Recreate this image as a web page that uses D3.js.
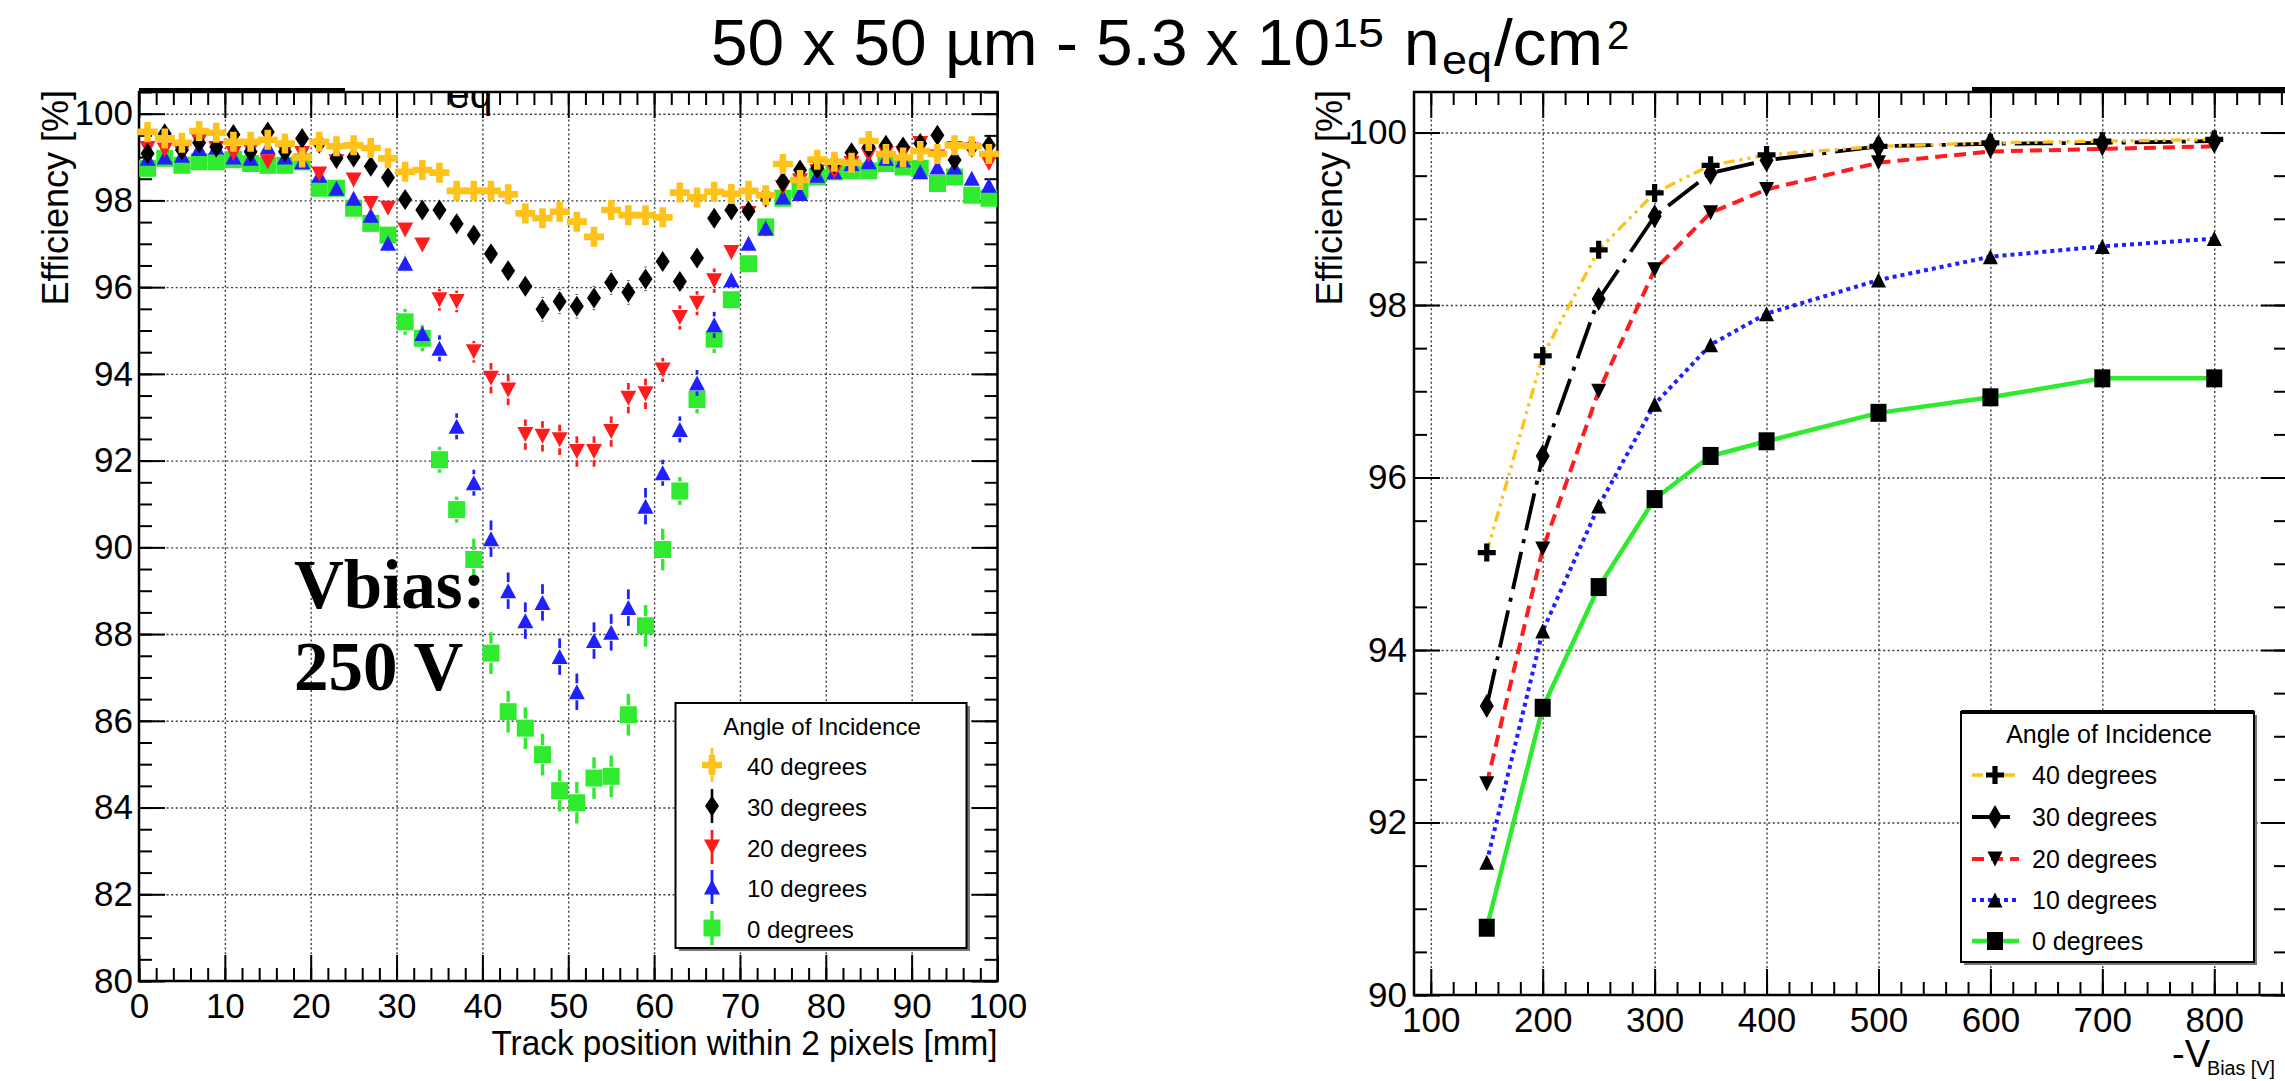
<!DOCTYPE html>
<html>
<head>
<meta charset="utf-8">
<script src="https://cdn.jsdelivr.net/npm/d3@7"></script>
<style>
  html, body { margin: 0; padding: 0; background: #fff; }
  svg { display: block; font-family: "Liberation Sans", Arial, Helvetica, sans-serif; }
</style>
</head>
<body>
<svg id="chart" width="2285" height="1081"></svg>
<script>
// ---------- left panel: efficiency vs track position (Vbias 250 V) ----------
const trackPos = [1, 3, 5, 7, 9, 11, 13, 15, 17, 19, 21, 23, 25, 27, 29, 31, 33, 35, 37, 39, 41, 43, 45, 47, 49,
  51, 53, 55, 57, 59, 61, 63, 65, 67, 69, 71, 73, 75, 77, 79, 81, 83, 85, 87, 89, 91, 93, 95, 97, 99];

const eff40 = [99.58, 99.43, 99.33, 99.60, 99.56, 99.35, 99.35, 99.40, 99.31, 98.99, 99.35, 99.25, 99.27, 99.21, 98.97,
  98.66, 98.70, 98.64, 98.22, 98.22, 98.22, 98.14, 97.70, 97.59, 97.74, 97.51, 97.16, 97.78, 97.66, 97.66, 97.61,
  98.18, 98.07, 98.20, 98.15, 98.22, 98.12, 98.84, 98.47, 98.94, 98.89, 98.87, 99.37, 99.07, 98.99, 99.14, 99.07,
  99.27, 99.25, 99.07];
const eff30 = [99.08, 99.54, 99.16, 99.33, 99.23, 99.52, 99.12, 99.58, 99.12, 99.43, 99.32, 98.97, 99.00, 98.79, 98.53,
  98.02, 97.78, 97.78, 97.46, 97.20, 96.77, 96.38, 96.02, 95.49, 95.67, 95.56, 95.75, 96.11, 95.88, 96.19, 96.59,
  96.13, 96.67, 97.59, 97.78, 97.75, 98.09, 98.43, 98.70, 98.74, 98.85, 99.10, 99.23, 99.27, 99.23, 99.31, 99.50,
  98.93, 99.23, 99.27];
const eff20 = [99.20, 99.16, 99.10, 99.35, 99.20, 99.08, 99.15, 98.89, 99.12, 99.08, 98.61, 98.89, 98.47, 97.93, 97.82,
  97.32, 96.97, 95.71, 95.67, 94.51, 93.90, 93.63, 92.60, 92.56, 92.48, 92.21, 92.21, 92.67, 93.44, 93.54, 94.09,
  95.30, 95.63, 96.15, 96.80, 97.70, 98.00, 98.30, 98.45, 98.66, 98.66, 98.85, 99.04, 99.08, 99.08, 99.31, 99.00,
  99.20, 99.16, 98.85];
const eff10 = [98.97, 99.00, 99.04, 99.20, 99.23, 99.00, 98.97, 99.23, 99.00, 98.89, 98.58, 98.28, 98.05, 97.66, 97.01,
  96.55, 94.93, 94.59, 92.79, 91.49, 90.20, 89.00, 88.31, 88.73, 87.48, 86.67, 87.85, 88.04, 88.61, 90.95, 91.72,
  92.72, 93.79, 95.13, 96.17, 97.01, 97.36, 98.08, 98.16, 98.58, 98.66, 98.85, 98.89, 98.97, 98.93, 98.66, 98.77,
  98.77, 98.51, 98.35];
const eff0 = [98.74, 98.97, 98.81, 98.89, 98.89, 98.94, 98.85, 98.81, 98.81, 98.89, 98.28, 98.28, 97.82, 97.47, 97.20,
  95.20, 94.82, 92.02, 90.87, 89.72, 87.56, 86.21, 85.83, 85.22, 84.39, 84.11, 84.68, 84.72, 86.14, 88.19, 89.95,
  91.30, 93.41, 94.80, 95.71, 96.54, 97.39, 98.05, 98.24, 98.54, 98.66, 98.68, 98.68, 98.85, 98.77, 98.74, 98.39,
  98.54, 98.12, 98.05];

const err40 = [0.10, 0.10, 0.10, 0.10, 0.10, 0.10, 0.10, 0.10, 0.10, 0.10, 0.10, 0.10, 0.10, 0.10, 0.10,
  0.12, 0.12, 0.12, 0.15, 0.15, 0.15, 0.15, 0.15, 0.15, 0.15, 0.15, 0.15, 0.15, 0.15, 0.15, 0.15,
  0.12, 0.12, 0.12, 0.12, 0.12, 0.12, 0.10, 0.10, 0.10, 0.10, 0.10, 0.10, 0.10, 0.10, 0.10, 0.10, 0.10, 0.10, 0.10];
const err30 = [0.10, 0.10, 0.10, 0.10, 0.10, 0.10, 0.10, 0.10, 0.10, 0.10, 0.10, 0.10, 0.10, 0.10,
  0.14, 0.14, 0.14, 0.14, 0.20, 0.20, 0.20, 0.20, 0.20, 0.28, 0.28, 0.28, 0.28, 0.28, 0.28, 0.28,
  0.22, 0.22, 0.22, 0.15, 0.15, 0.15, 0.15, 0.10, 0.10, 0.10, 0.10, 0.10, 0.10, 0.10, 0.10, 0.10, 0.10, 0.10, 0.10, 0.10];
const err20 = [0.12, 0.12, 0.12, 0.12, 0.12, 0.12, 0.12, 0.12, 0.12, 0.12, 0.12, 0.12, 0.12, 0.12,
  0.18, 0.18, 0.18, 0.25, 0.25, 0.25, 0.35, 0.35, 0.35, 0.35, 0.35, 0.35, 0.35, 0.35, 0.35, 0.35,
  0.28, 0.28, 0.28, 0.28, 0.18, 0.18, 0.18, 0.12, 0.12, 0.12, 0.12, 0.12, 0.12, 0.12, 0.12, 0.12, 0.12, 0.12, 0.12, 0.12];
const err10 = [0.12, 0.12, 0.12, 0.12, 0.12, 0.12, 0.12, 0.12, 0.12, 0.12, 0.12, 0.12, 0.12, 0.12,
  0.20, 0.20, 0.20, 0.30, 0.30, 0.30, 0.42, 0.42, 0.42, 0.42, 0.42, 0.42, 0.42, 0.42, 0.42, 0.42,
  0.30, 0.30, 0.30, 0.30, 0.20, 0.20, 0.20, 0.12, 0.12, 0.12, 0.12, 0.12, 0.12, 0.12, 0.12, 0.12, 0.12, 0.12, 0.12, 0.12];
const err0 = [0.12, 0.12, 0.12, 0.12, 0.12, 0.12, 0.12, 0.12, 0.12, 0.12, 0.12, 0.12, 0.12, 0.12, 0.12,
  0.30, 0.30, 0.30, 0.30, 0.48, 0.48, 0.48, 0.48, 0.48, 0.48, 0.48, 0.48, 0.48, 0.48, 0.48, 0.48,
  0.32, 0.32, 0.32, 0.22, 0.22, 0.22, 0.12, 0.12, 0.12, 0.12, 0.12, 0.12, 0.12, 0.12, 0.12, 0.12, 0.12, 0.12, 0.12];

// ---------- right panel: efficiency vs bias voltage ----------
const biasV = [150, 200, 250, 300, 350, 400, 500, 600, 700, 800];
const bias40 = [95.13, 97.41, 98.64, 99.30, 99.62, 99.74, 99.84, 99.88, 99.90, 99.92];
const bias30 = [93.35, 96.25, 98.07, 99.03, 99.53, 99.68, 99.84, 99.87, 99.88, 99.90];
const bias20 = [92.45, 95.17, 97.00, 98.41, 99.07, 99.34, 99.65, 99.78, 99.81, 99.84];
const bias10 = [91.54, 94.22, 95.67, 96.85, 97.54, 97.90, 98.29, 98.56, 98.68, 98.77];
const bias0 = [90.78, 93.33, 94.73, 95.75, 96.25, 96.42, 96.75, 96.93, 97.15, 97.15];

const angleLabels = ['40 degrees', '30 degrees', '20 degrees', '10 degrees', '0 degrees'];
const xTicksLeft = [0, 10, 20, 30, 40, 50, 60, 70, 80, 90, 100];
const yTicksLeft = [80, 82, 84, 86, 88, 90, 92, 94, 96, 98, 100];
const xTicksRight = [100, 200, 300, 400, 500, 600, 700, 800];
const yTicksRight = [90, 92, 94, 96, 98, 100];

// ---------- styles ----------
const COL = { a40: '#ffc21a', a30: '#000000', a20: '#ff1c1c', a10: '#1f1fff', a0: '#2fea2f' };
const SANS = '"Liberation Sans", Arial, Helvetica, sans-serif';
const SERIF = '"Liberation Serif", "Times New Roman", serif';

const svg = d3.select('#chart');

function markerPath(type, s) {
  if (type === 'cross') {
    const a = s.a, t = s.t;
    return `M${-t},${-a}H${t}V${-t}H${a}V${t}H${t}V${a}H${-t}V${t}H${-a}V${-t}H${-t}Z`;
  }
  if (type === 'diamond') return `M0,${-s.h}L${s.w},0L0,${s.h}L${-s.w},0Z`;
  if (type === 'tdown') return `M${-s.w},${-s.h / 2}L${s.w},${-s.h / 2}L0,${s.h / 2}Z`;
  if (type === 'tup') return `M${-s.w},${s.h / 2}L${s.w},${s.h / 2}L0,${-s.h / 2}Z`;
  return `M${-s.w},${-s.h}H${s.w}V${s.h}H${-s.w}Z`;
}

// half height of a marker, used to leave the error bar gap
function markerHalf(type, s) {
  if (type === 'cross') return s.a;
  if (type === 'tdown' || type === 'tup') return s.h / 2;
  return s.h;
}

function drawFrame(cfg) {
  const w = cfg.right - cfg.left;
  const h = cfg.bottom - cfg.top;
  const g = svg.append('g').attr('transform', `translate(${cfg.left},${cfg.top})`);
  const x = d3.scaleLinear().domain(cfg.xDomain).range([0, w]);
  const y = d3.scaleLinear().domain(cfg.yDomain).range([h, 0]);

  // dotted grid
  const grid = g.append('g');
  grid.append('g').call(d3.axisBottom(x).tickValues(cfg.xGrid).tickSize(h).tickFormat(''));
  grid.append('g').call(d3.axisRight(y).tickValues(cfg.yGrid).tickSize(w).tickFormat(''));
  grid.selectAll('.domain').remove();
  grid.selectAll('line').attr('stroke', '#3a3a3a').attr('stroke-width', 1.4).attr('stroke-dasharray', '2,2.6');

  const axes = g.append('g');
  const add = (axis, tx, ty) => axes.append('g').attr('transform', `translate(${tx},${ty})`).call(axis);

  add(d3.axisBottom(x).tickValues(cfg.xMinor).tickSize(-13).tickFormat(''), 0, h);
  add(d3.axisTop(x).tickValues(cfg.xMinor).tickSize(-13).tickFormat(''), 0, 0);
  add(d3.axisTop(x).tickValues(cfg.xTicks).tickSize(-26).tickFormat(''), 0, 0);
  add(d3.axisLeft(y).tickValues(cfg.yMinor).tickSize(-13).tickFormat(''), 0, 0);
  add(d3.axisRight(y).tickValues(cfg.yMinor).tickSize(-13).tickFormat(''), w, 0);
  add(d3.axisRight(y).tickValues(cfg.yTicks).tickSize(-26).tickFormat(''), w, 0);
  add(d3.axisBottom(x).tickValues(cfg.xTicks).tickSize(-26).tickPadding(12).tickFormat(d3.format('d')), 0, h);
  add(d3.axisLeft(y).tickValues(cfg.yTicks).tickSize(-26).tickPadding(cfg.yPad).tickFormat(d3.format('d')), 0, 0);

  axes.selectAll('.domain').remove();
  axes.selectAll('line').attr('stroke', '#000').attr('stroke-width', 2);
  axes.selectAll('g').attr('font-family', SANS).attr('font-size', 35);
  axes.selectAll('text').attr('fill', '#000');

  g.append('rect').attr('x', 0).attr('y', 0).attr('width', w).attr('height', h)
    .attr('fill', 'none').attr('stroke', '#000').attr('stroke-width', 2.5);

  return { g, x, y, w, h };
}

// ---------- title ----------
const title = svg.append('g').attr('font-family', SANS).attr('fill', '#000');
title.append('text').attr('x', 711).attr('y', 65).attr('font-size', 64)
  .attr('textLength', 619).attr('lengthAdjust', 'spacingAndGlyphs').text('50 x 50 µm - 5.3 x 10');
title.append('text').attr('x', 1332).attr('y', 47).attr('font-size', 40)
  .attr('textLength', 52).attr('lengthAdjust', 'spacingAndGlyphs').text('15');
title.append('text').attr('x', 1404).attr('y', 65).attr('font-size', 64).text('n');
title.append('text').attr('x', 1442).attr('y', 74).attr('font-size', 40)
  .attr('textLength', 50).attr('lengthAdjust', 'spacingAndGlyphs').text('eq');
title.append('text').attr('x', 1494).attr('y', 65).attr('font-size', 64)
  .attr('textLength', 109).attr('lengthAdjust', 'spacingAndGlyphs').text('/cm');
title.append('text').attr('x', 1607).attr('y', 49).attr('font-size', 40).text('2');

// ---------- left panel ----------
const L = drawFrame({
  left: 139, right: 997.5, top: 92, bottom: 981,
  xDomain: [0, 100], yDomain: [80, 100.5],
  xTicks: xTicksLeft, yTicks: yTicksLeft,
  xGrid: xTicksLeft.slice(1, -1), yGrid: yTicksLeft.slice(1),
  xMinor: d3.range(0, 100.1, 2), yMinor: d3.range(80, 100.6, 0.5),
  yPad: 6
});

// leftover pieces of the slide overlay above the left frame
svg.append('line').attr('x1', 139).attr('x2', 345).attr('y1', 90).attr('y2', 90)
  .attr('stroke', '#000').attr('stroke-width', 4);
svg.append('clipPath').attr('id', 'eqclip').append('rect')
  .attr('x', 430).attr('y', 93).attr('width', 80).attr('height', 40);
svg.append('text').attr('clip-path', 'url(#eqclip)').attr('x', 447).attr('y', 108)
  .attr('font-family', SANS).attr('font-size', 41).text('eq');

svg.append('text')
  .attr('transform', 'translate(68,90) rotate(-90)')
  .attr('text-anchor', 'end').attr('font-family', SANS).attr('font-size', 36)
  .text('Efficiency [%]');
svg.append('text')
  .attr('x', 997.5).attr('y', 1055).attr('text-anchor', 'end')
  .attr('font-family', SANS).attr('font-size', 35)
  .attr('textLength', 506).attr('lengthAdjust', 'spacingAndGlyphs')
  .text('Track position within 2 pixels [mm]');

const leftSeries = [
  { vals: eff0, errs: err0, color: COL.a0, type: 'square', size: { w: 8.5, h: 8.5 }, ew: 3.4 },
  { vals: eff10, errs: err10, color: COL.a10, type: 'tup', size: { w: 8, h: 15 }, ew: 2.8 },
  { vals: eff20, errs: err20, color: COL.a20, type: 'tdown', size: { w: 8, h: 15 }, ew: 2.8 },
  { vals: eff30, errs: err30, color: COL.a30, type: 'diamond', size: { w: 7, h: 10.5 }, ew: 2.6 },
  { vals: eff40, errs: err40, color: COL.a40, type: 'cross', size: { a: 10, t: 3.3 }, ew: 2.8 }
];

leftSeries.forEach(s => {
  const sg = L.g.append('g');
  const pts = trackPos.map((p, i) => ({ p, v: s.vals[i], e: s.errs[i] }));
  const gap = markerHalf(s.type, s.size) + 1;
  sg.selectAll('line.up').data(pts).enter().append('line')
    .attr('x1', d => L.x(d.p)).attr('x2', d => L.x(d.p))
    .attr('y1', d => L.y(d.v + d.e)).attr('y2', d => Math.max(L.y(d.v + d.e), L.y(d.v) - gap))
    .attr('stroke', s.color).attr('stroke-width', s.ew);
  sg.selectAll('line.dn').data(pts).enter().append('line')
    .attr('x1', d => L.x(d.p)).attr('x2', d => L.x(d.p))
    .attr('y1', d => Math.min(L.y(d.v - d.e), L.y(d.v) + gap)).attr('y2', d => L.y(d.v - d.e))
    .attr('stroke', s.color).attr('stroke-width', s.ew);
  sg.selectAll('path').data(pts).enter().append('path')
    .attr('transform', d => `translate(${L.x(d.p)},${L.y(d.v)})`)
    .attr('d', markerPath(s.type, s.size))
    .attr('fill', s.color);
});

svg.append('text').attr('x', 294).attr('y', 608)
  .attr('font-family', SERIF).attr('font-weight', 'bold').attr('font-size', 69).text('Vbias:');
svg.append('text').attr('x', 294).attr('y', 690)
  .attr('font-family', SERIF).attr('font-weight', 'bold').attr('font-size', 69).text('250 V');

// left legend
const legL = svg.append('g');
legL.append('rect').attr('x', 679).attr('y', 706).attr('width', 291).attr('height', 245).attr('fill', '#777');
legL.append('rect').attr('x', 675.5).attr('y', 703).attr('width', 291).attr('height', 245)
  .attr('fill', '#fff').attr('stroke', '#000').attr('stroke-width', 2);
legL.append('text').attr('x', 822).attr('y', 735).attr('text-anchor', 'middle')
  .attr('font-family', SANS).attr('font-size', 24).text('Angle of Incidence');
const legLeftRows = [leftSeries[4], leftSeries[3], leftSeries[2], leftSeries[1], leftSeries[0]];
const legLeftBase = [775, 816, 857, 897, 938];
legLeftRows.forEach((s, i) => {
  const cy = legLeftBase[i] - 10;
  legL.append('line').attr('x1', 712).attr('x2', 712).attr('y1', cy - 17).attr('y2', cy + 17)
    .attr('stroke', s.color).attr('stroke-width', s.ew);
  legL.append('path').attr('transform', `translate(712,${cy})`).attr('d', markerPath(s.type, s.size))
    .attr('fill', s.color);
  legL.append('text').attr('x', 747).attr('y', legLeftBase[i])
    .attr('font-family', SANS).attr('font-size', 24).text(angleLabels[i]);
});

// ---------- right panel ----------
const R = drawFrame({
  left: 1414, right: 2287, top: 92, bottom: 995,
  xDomain: [85, 865], yDomain: [90, 100.47],
  xTicks: xTicksRight, yTicks: yTicksRight,
  xGrid: xTicksRight, yGrid: yTicksRight.slice(1),
  xMinor: d3.range(100, 861, 20), yMinor: d3.range(90, 100.01, 0.5),
  yPad: 7
});

svg.append('line').attr('x1', 1972).attr('x2', 2285).attr('y1', 89).attr('y2', 89)
  .attr('stroke', '#000').attr('stroke-width', 4);

svg.append('text')
  .attr('transform', 'translate(1342,90) rotate(-90)')
  .attr('text-anchor', 'end').attr('font-family', SANS).attr('font-size', 36)
  .text('Efficiency [%]');
svg.append('text').attr('font-family', SANS).attr('x', 2172).attr('y', 1067).attr('font-size', 38).text('-V');
svg.append('text').attr('font-family', SANS).attr('x', 2207).attr('y', 1075).attr('font-size', 20)
  .attr('textLength', 68).attr('lengthAdjust', 'spacingAndGlyphs').text('Bias [V]');

const rightSeries = [
  { vals: bias0, color: COL.a0, width: 4.5, dash: null, type: 'square', size: { w: 8, h: 9 } },
  { vals: bias10, color: COL.a10, width: 4, dash: '4,4', type: 'tup', size: { w: 7.5, h: 15 } },
  { vals: bias20, color: COL.a20, width: 4, dash: '12,7', type: 'tdown', size: { w: 7.5, h: 15 } },
  { vals: bias30, color: '#000', width: 3.8, dash: '38,9,4,9', type: 'diamond', size: { w: 7, h: 12 } },
  { vals: bias40, color: COL.a40, width: 3.4, dash: '11,5,3,5,3,5', type: 'cross', size: { a: 9, t: 2.6 } }
];

const lineGen = d3.line().x(d => R.x(d.v)).y(d => R.y(d.e));
rightSeries.forEach(s => {
  const pts = biasV.map((v, i) => ({ v, e: s.vals[i] }));
  R.g.append('path').datum(pts).attr('d', lineGen)
    .attr('fill', 'none').attr('stroke', s.color).attr('stroke-width', s.width)
    .attr('stroke-dasharray', s.dash);
});
rightSeries.forEach(s => {
  const pts = biasV.map((v, i) => ({ v, e: s.vals[i] }));
  R.g.append('g').selectAll('path').data(pts).enter().append('path')
    .attr('transform', d => `translate(${R.x(d.v)},${R.y(d.e)})`)
    .attr('d', markerPath(s.type, s.size)).attr('fill', '#000');
});

// right legend
const legR = svg.append('g');
legR.append('rect').attr('x', 1964).attr('y', 715).attr('width', 293).attr('height', 250).attr('fill', '#777');
legR.append('rect').attr('x', 1961).attr('y', 712).attr('width', 293).attr('height', 250)
  .attr('fill', '#fff').attr('stroke', '#000').attr('stroke-width', 2);
legR.append('line').attr('x1', 1961).attr('x2', 2254).attr('y1', 712).attr('y2', 712)
  .attr('stroke', '#000').attr('stroke-width', 4);
legR.append('text').attr('x', 2109).attr('y', 743).attr('text-anchor', 'middle')
  .attr('font-family', SANS).attr('font-size', 25).text('Angle of Incidence');
const legRightRows = [rightSeries[4], rightSeries[3], rightSeries[2], rightSeries[1], rightSeries[0]];
const legRightBase = [784, 826, 868, 909, 950];
legRightRows.forEach((s, i) => {
  const cy = legRightBase[i] - 9;
  legR.append('line').attr('x1', 1972).attr('x2', 2019).attr('y1', cy).attr('y2', cy)
    .attr('stroke', s.color).attr('stroke-width', s.width).attr('stroke-dasharray', s.dash);
  legR.append('path').attr('transform', `translate(1995,${cy})`).attr('d', markerPath(s.type, s.size))
    .attr('fill', '#000');
  legR.append('text').attr('x', 2032).attr('y', legRightBase[i])
    .attr('font-family', SANS).attr('font-size', 25).text(angleLabels[i]);
});
</script>
</body>
</html>
